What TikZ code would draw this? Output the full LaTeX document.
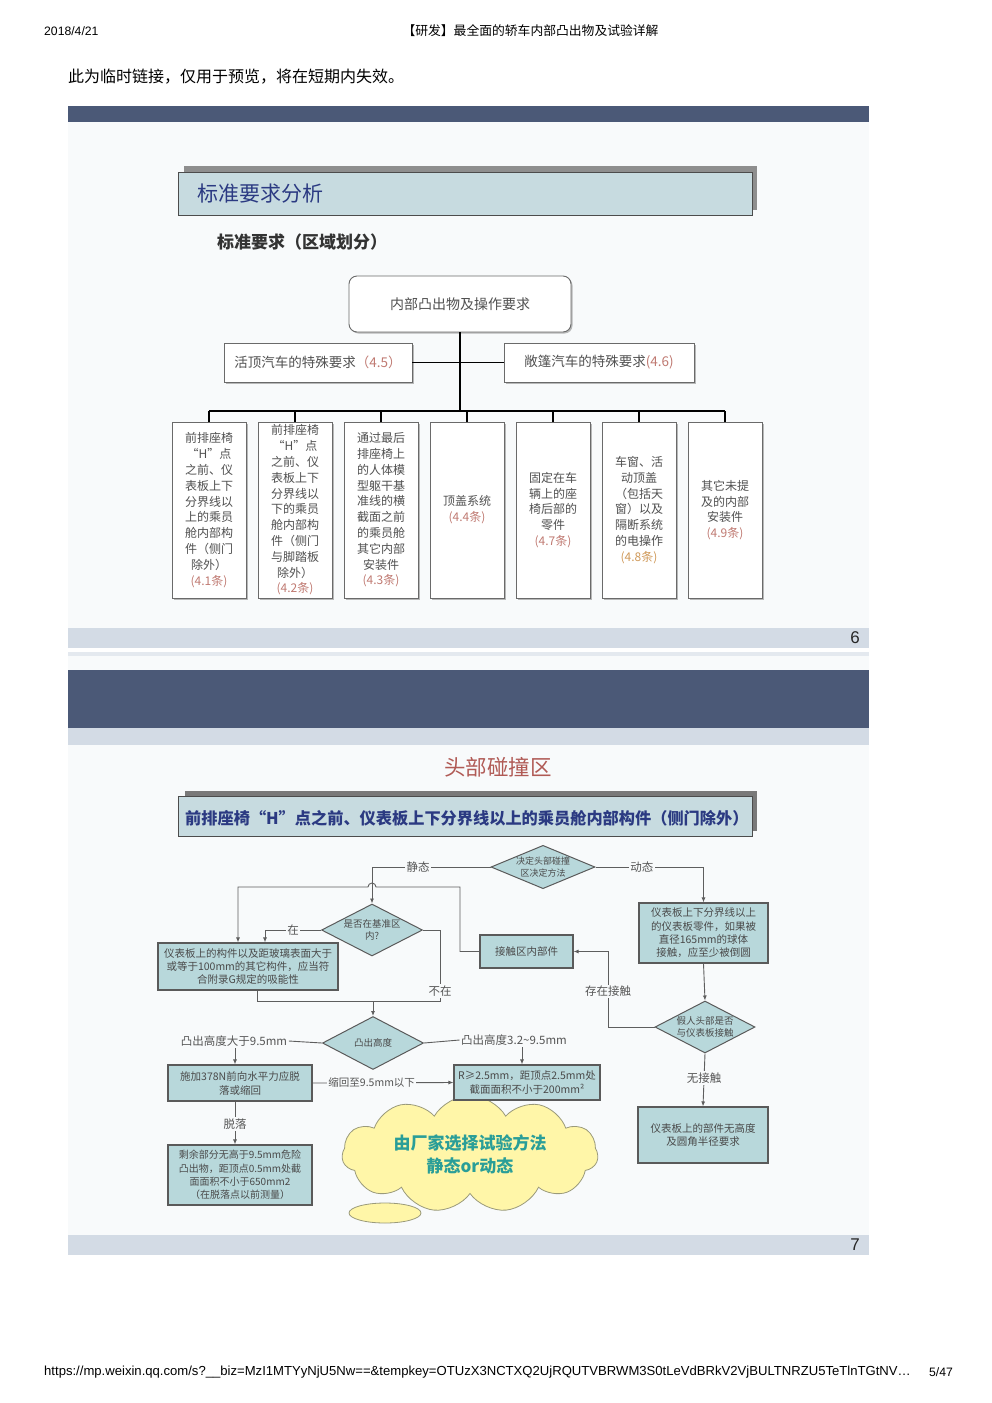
\documentclass[tikz,border=0pt]{standalone}
\usepackage{fontspec}
\setmainfont{Noto Sans CJK SC}
\newfontfamily\latn{Liberation Sans}
\usetikzlibrary{shapes.geometric,shapes.symbols,arrows.meta,shadows}
\newcommand\fsz[2]{\fontsize{#1}{#2}\selectfont}
\definecolor{darkband}{HTML}{4B5977}
\definecolor{footband}{HTML}{D3DBE5}
\definecolor{body6}{HTML}{F8FAFB}
\definecolor{body7}{HTML}{F8FAFB}
\definecolor{titlefill}{HTML}{C7DBE0}
\definecolor{titleblue}{HTML}{2B3A82}
\definecolor{shadowg}{HTML}{8E8E8E}
\definecolor{box6line}{HTML}{6A6A6A}
\definecolor{box6text}{HTML}{505050}
\definecolor{refc}{HTML}{C07A72}
\definecolor{refo}{HTML}{D09A5A}
\definecolor{flowfill}{HTML}{B8D8DB}
\definecolor{flowline}{HTML}{5A5A5A}
\definecolor{flowtext}{HTML}{4A4A4A}
\definecolor{connc}{HTML}{5E5E5E}
\definecolor{labtext}{HTML}{555555}
\definecolor{cloudfill}{HTML}{FFF6A8}
\definecolor{cloudline}{HTML}{9A9A7A}
\definecolor{cloudtext}{HTML}{2A9E98}
\definecolor{headred}{HTML}{B05A55}
\tikzset{
  s6box/.style={draw=box6line, fill=white, line width=0.9pt, minimum width=74pt, minimum height=176pt,
    inner sep=0pt, align=center, text=box6text, font=\fsz{12}{15.8},
    drop shadow={shadow xshift=1.5pt, shadow yshift=-1.5pt, fill=black!45, opacity=0.6}},
  s6side/.style={draw=box6line, fill=white, line width=0.9pt, minimum height=39pt, inner sep=0pt,
    text=box6text, font=\fsz{13.5}{15},
    drop shadow={shadow xshift=1.5pt, shadow yshift=-1.5pt, fill=black!45, opacity=0.6}},
  bus/.style={draw=black, line width=2.2pt},
  stub/.style={draw=black, line width=1.8pt},
  fbox/.style={draw=flowline, fill=flowfill, line width=1.1pt, inner sep=1pt, align=center,
    text=flowtext, font=\fsz{10.5}{13.3}},
  fdia/.style={diamond, draw=flowline, fill=flowfill, line width=1pt, inner sep=0pt, align=center,
    text=flowtext, font=\fsz{9.5}{12}},
  lab/.style={fill=body7, inner sep=1.5pt, text=labtext, font=\fsz{11.5}{13}},
  conn/.style={draw=connc, line width=0.9pt},
  arr/.style={conn, -{Latex[length=5pt,width=4pt]}},
}
\begin{document}
\begin{tikzpicture}[x=1pt,y=-1pt]
\path[use as bounding box, fill=white] (0,0) rectangle (992,1403);

% ---- page header / footer
\node[font=\latn\fsz{12.2}{14}, anchor=west, inner sep=0pt] (date) at (44,31) {2018/4/21};
\node[font=\fsz{12.8}{14}, inner sep=0pt] (htitle) at (530.5,31) {【研发】最全面的轿车内部凸出物及试验详解};
\node[font=\fsz{16}{18}, anchor=west, inner sep=0pt] (notice) at (68,77) {此为临时链接，仅用于预览，将在短期内失效。};
\node[font=\latn\fsz{13.1}{14}, anchor=west, inner sep=0pt] (url) at (44,1372) {https://mp.weixin.qq.com/s?\_\_biz=MzI1MTYyNjU5Nw==\&tempkey=OTUzX3NCTXQ2UjRQUTVBRWM3S0tLeVdBRkV2VjBULTNRZU5TeTlnTGtNV…};
\node[font=\latn\fsz{12.2}{14}, anchor=west, inner sep=0pt] (pg) at (929,1372) {5/47};

% ---- slide 6 background
\fill[darkband] (68,106) rectangle (869,122);
\fill[body6] (68,122) rectangle (869,628);
\fill[footband] (68,628) rectangle (869,648);
\node[font=\latn\fsz{17}{18}, text=black!85, inner sep=0pt] (n6) at (855,638) {6};

% title box
\fill[shadowg] (184,166) rectangle (757,210);
\node[draw=black!70, fill=titlefill, line width=0.8pt, minimum width=574pt, minimum height=43pt, anchor=north west, inner sep=0pt] (t6box) at (178,172) {};
\node[font=\fsz{21}{23}, text=titleblue, anchor=west, inner sep=0pt] (t6) at (197,194) {标准要求分析};
\node[font=\fsz{17}{19}\bfseries, text=black!80, anchor=west, inner sep=0pt] (sub6) at (217,242) {标准要求（区域划分）};

% org chart
\node[draw=box6line, fill=white, line width=0.9pt, rounded corners=8pt, minimum width=222pt, minimum height=56pt,
  text=box6text, font=\fsz{14}{16}, drop shadow={shadow xshift=1.5pt, shadow yshift=-1.5pt, fill=black!45, opacity=0.6}] (top) at (460,304) {内部凸出物及操作要求};
\node[s6side, minimum width=188pt] (L5) at (318,362.5) {活顶汽车的特殊要求\textcolor{refc}{（4.5）}};
\node[s6side, minimum width=190pt] (R6) at (599,362.5) {敞篷汽车的特殊要求\textcolor{refc}{(4.6)}};

\node[s6box] (b1) at (209,510) {前排座椅\\“H”点\\之前、仪\\表板上下\\分界线以\\上的乘员\\舱内部构\\件（侧门\\除外）\\\textcolor{refc}{(4.1条)}};
\node[s6box] (b2) at (295,510) {前排座椅\\“H”点\\之前、仪\\表板上下\\分界线以\\下的乘员\\舱内部构\\件（侧门\\与脚踏板\\除外）\\\textcolor{refc}{(4.2条)}};
\node[s6box] (b3) at (381,510) {通过最后\\排座椅上\\的人体模\\型躯干基\\准线的横\\截面之前\\的乘员舱\\其它内部\\安装件\\\textcolor{refc}{(4.3条)}};
\node[s6box] (b4) at (467,510) {顶盖系统\\\textcolor{refc}{(4.4条)}};
\node[s6box] (b5) at (553,510) {固定在车\\辆上的座\\椅后部的\\零件\\\textcolor{refc}{(4.7条)}};
\node[s6box] (b6) at (639,510) {车窗、活\\动顶盖\\（包括天\\窗）以及\\隔断系统\\的电操作\\\textcolor{refo}{(4.8条)}};
\node[s6box] (b7) at (725,510) {其它未提\\及的内部\\安装件\\\textcolor{refc}{(4.9条)}};

\coordinate (busy) at (0,411);
\draw[bus] (top.south) -- (top.south |- busy);
\draw[stub] (L5.east) -- (L5.east -| top.south);
\draw[stub] (R6.west) -- (R6.west -| top.south);
\draw[bus] (b1.north |- busy) -- (b7.north |- busy);
\foreach \i in {1,...,7} { \draw[stub] (b\i.north |- busy) -- (b\i.north); }

% ---- slide 7 background
\fill[footband!60] (68,652) rectangle (869,656);
\fill[body7] (68,656) rectangle (869,1235);
\fill[darkband] (68,670) rectangle (869,728);
\fill[footband] (68,728) rectangle (869,745);
\fill[footband] (68,1235) rectangle (869,1255);
\node[font=\latn\fsz{17}{18}, text=black!85, inner sep=0pt] (n7) at (855,1245) {7};

\node[font=\fsz{21.5}{23}, text=headred, inner sep=0pt] (head7) at (498,767) {头部碰撞区};
\fill[shadowg!85!black] (185,791) rectangle (757,831);
\node[draw=black!70, fill=titlefill, line width=0.8pt, minimum width=574pt, minimum height=40pt, anchor=north west, inner sep=0pt] (t7box) at (178,796) {};
\node[font=\fsz{16.2}{18}\bfseries, text=titleblue, anchor=west, inner sep=0pt] (t7) at (185,818) {前排座椅“H”点之前、仪表板上下分界线以上的乘员舱内部构件（侧门除外）};

% cloud (behind the boxes)
\node[cloud, cloud puffs=11, cloud puff arc=120, aspect=2.7, draw=cloudline, fill=cloudfill, line width=0.8pt,
  minimum width=256pt, minimum height=86pt, align=center, text=cloudtext, font=\fsz{17}{23}\bfseries] (cloud) at (470,1154) {由厂家选择试验方法\\静态or动态};
\node[ellipse, draw=cloudline, fill=cloudfill, line width=0.8pt, minimum width=72pt, minimum height=20pt] (puff) at (385,1213) {};

% flowchart nodes
\node[fdia, font=\fsz{9}{11.5}, aspect=2.3, minimum width=104pt, minimum height=42pt] (D1) at (543,867) {决定头部碰撞\\区决定方法};
\node[fdia, aspect=1.95, minimum width=101pt, minimum height=52pt] (D2) at (372,930) {是否在基准区\\内?};
\node[fdia, aspect=1.95, minimum width=101pt, minimum height=53pt] (D3) at (373,1043) {凸出高度};
\node[fdia, aspect=1.95, minimum width=100pt, minimum height=52pt] (D4) at (705,1027) {假人头部是否\\与仪表板接触};

\node[fbox, minimum width=180pt, minimum height=47pt] (B1) at (248,966.5) {仪表板上的构件以及距玻璃表面大于\\或等于100mm的其它构件，应当符\\合附录G规定的吸能性};
\node[fbox, minimum width=93pt, minimum height=33pt] (B2) at (526.5,951.5) {接触区内部件};
\node[fbox, minimum width=129pt, minimum height=60pt] (R1) at (703.5,933) {仪表板上下分界线以上\\的仪表板零件，如果被\\直径165mm的球体\\接触，应至少被倒圆};
\node[fbox, minimum width=130pt, minimum height=56pt] (R2) at (703,1135) {仪表板上的部件无高度\\及圆角半径要求};
\node[fbox, minimum width=144pt, minimum height=36pt, font=\fsz{10.5}{14}] (L3) at (240,1083) {施加378N前向水平力应脱\\落或缩回};
\node[fbox, minimum width=146pt, minimum height=35pt, font=\fsz{10.5}{14}] (M3) at (527,1082.5) {R≥2.5mm，距顶点2.5mm处\\截面面积不小于200mm²};
\node[fbox, minimum width=144pt, minimum height=60pt, font=\fsz{10}{13.2}] (L4) at (240,1175) {剩余部分无高于9.5mm危险\\凸出物，距顶点0.5mm处截\\面面积不小于650mm2\\（在脱落点以前测量）};

% connectors
\coordinate (xa) at (238,887);
\coordinate (xb) at (265,0);
\coordinate (xc) at (440,1001);
\coordinate (xd) at (257,1001);
\coordinate (xe) at (608,0);
\coordinate (xf) at (460,887);
\draw[arr] (D1.west) -- node[lab, pos=0.61]{静态} (D1.west -| D2.north) -- (D2.north);
\draw[arr] (B2.west) -| (xf) -- (376,887) arc[start angle=0, end angle=-180, radius=4] -- (xa) -- (xa |- B1.north);
\draw[arr] (D2.west) -- node[lab, pos=0.5]{在} (D2.west -| xb) -- (xb |- B1.north);
\draw[conn] (D2.east) -- (D2.east -| xc) -- node[lab, pos=0.86]{不在} (xc) -- (xd) -- (xd |- B1.south);
\draw[arr] (D3.north |- xc) -- (D3.north);
\draw[arr] (D1.east) -- node[lab, pos=0.43]{动态} (D1.east -| R1.north) -- (R1.north);
\draw[arr] (R1.south) -- (D4.north);
\draw[arr] (D4.west) -- (D4.west -| xe) -- node[lab, pos=0.47]{存在接触} (xe |- B2.east) -- (B2.east);
\draw[arr] (D4.south) -- node[lab, pos=0.46]{无接触} (R2.north);

\node[lab] (t1) at (234,1041) {凸出高度大于9.5mm};
\node[lab] (t2) at (514,1040) {凸出高度3.2\textasciitilde9.5mm};
\draw[conn] (D3.west) -- (t1.east);
\draw[conn] (D3.east) -- (t2.west);
\draw[arr] ([xshift=1pt]t1.south) -- ([xshift=-5pt]L3.north);
\draw[arr] ([xshift=8pt]t2.south) -- ([xshift=-5pt]M3.north);
\draw[arr] (L3.east) -- node[lab, pos=0.42, font=\fsz{10.5}{12}]{缩回至9.5mm以下} (M3.west);
\draw[arr] ([xshift=-5pt]L3.south) -- node[lab, pos=0.52]{脱落} ([xshift=-5pt]L4.north);
\end{tikzpicture}
\end{document}
